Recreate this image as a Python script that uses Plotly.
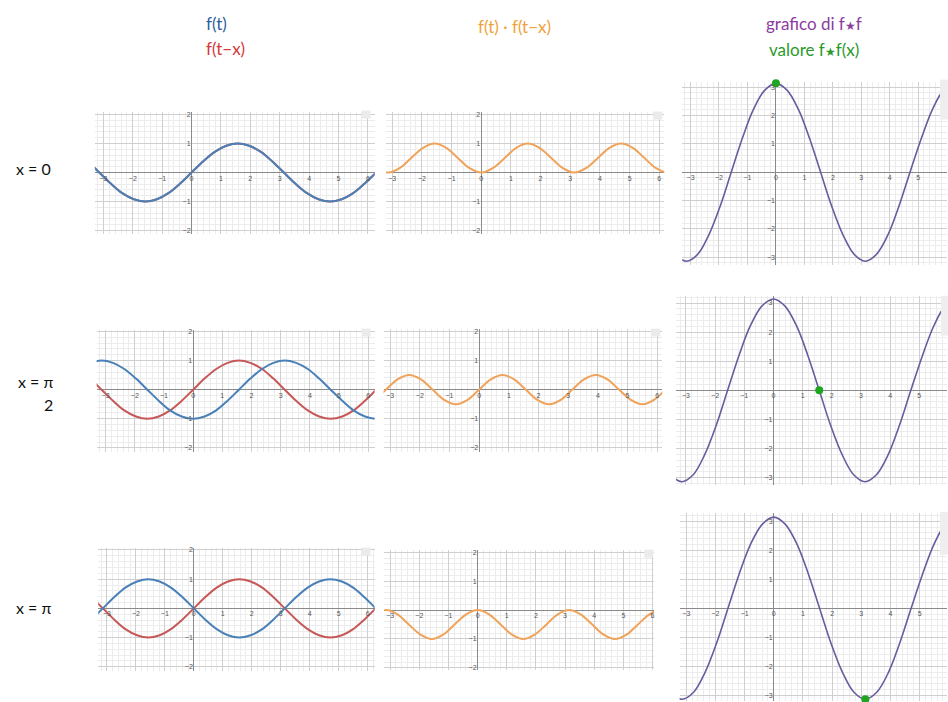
import plotly.graph_objects as go

# ---- data (samples every pi/8) ----
T = [-3.93, -3.53, -3.14, -2.75, -2.36, -1.96, -1.57, -1.18, -0.79, -0.39, 0, 0.39, 0.79, 1.18, 1.57,
     1.96, 2.36, 2.75, 3.14, 3.53, 3.93, 4.32, 4.71, 5.11, 5.50, 5.89, 6.28, 6.68, 7.07]

F_T = [0.71, 0.38, 0, -0.38, -0.71, -0.92, -1, -0.92, -0.71, -0.38, 0, 0.38, 0.71, 0.92, 1,
       0.92, 0.71, 0.38, 0, -0.38, -0.71, -0.92, -1, -0.92, -0.71, -0.38, 0, 0.38, 0.71]
F_SHIFT_HALFPI = [0.71, 0.92, 1, 0.92, 0.71, 0.38, 0, -0.38, -0.71, -0.92, -1, -0.92, -0.71, -0.38, 0,
                  0.38, 0.71, 0.92, 1, 0.92, 0.71, 0.38, 0, -0.38, -0.71, -0.92, -1, -0.92, -0.71]
F_SHIFT_PI = [-0.71, -0.38, 0, 0.38, 0.71, 0.92, 1, 0.92, 0.71, 0.38, 0, -0.38, -0.71, -0.92, -1,
              -0.92, -0.71, -0.38, 0, 0.38, 0.71, 0.92, 1, 0.92, 0.71, 0.38, 0, -0.38, -0.71]

PROD_0 = [0.5, 0.15, 0, 0.15, 0.5, 0.85, 1, 0.85, 0.5, 0.15, 0, 0.15, 0.5, 0.85, 1,
          0.85, 0.5, 0.15, 0, 0.15, 0.5, 0.85, 1, 0.85, 0.5, 0.15, 0, 0.15, 0.5]
PROD_HALFPI = [-0.5, -0.35, 0, 0.35, 0.5, 0.35, 0, -0.35, -0.5, -0.35, 0, 0.35, 0.5, 0.35, 0,
               -0.35, -0.5, -0.35, 0, 0.35, 0.5, 0.35, 0, -0.35, -0.5, -0.35, 0, 0.35, 0.5]
PROD_PI = [-0.5, -0.15, 0, -0.15, -0.5, -0.85, -1, -0.85, -0.5, -0.15, 0, -0.15, -0.5, -0.85, -1,
           -0.85, -0.5, -0.15, 0, -0.15, -0.5, -0.85, -1, -0.85, -0.5, -0.15, 0, -0.15, -0.5]

CONV = [-2.22, -2.9, -3.14, -2.9, -2.22, -1.2, 0, 1.2, 2.22, 2.9, 3.14, 2.9, 2.22, 1.2, 0,
        -1.2, -2.22, -2.9, -3.14, -2.9, -2.22, -1.2, 0, 1.2, 2.22, 2.9, 3.14, 2.9, 2.22]

X_VALUES = [0, 1.57, 3.14]
CONV_AT_X = [3.14, 0, -3.14]

X_TICKS = [-3, -2, -1, 0, 1, 2, 3, 4, 5, 6]
Y_TICKS_SMALL = [-2, -1, 1, 2]
Y_TICKS_BIG = [-3, -2, -1, 1, 2, 3]

ROW_LABELS = ["x = 0", "x = π", "x = π"]
STAR = "<span style='font-size:12px'>★</span>"
HEADERS = ["f(t)", "f(t−x)", "f(t) · f(t−x)", "grafico di f" + STAR + "f", "valore f" + STAR + "f(x)"]

# ---- layout (pixels) ----
W, H = 948, 702
BLUE, RED, ORANGE, PURPLE, GREEN = "#4a80b8", "#c65858", "#f0a35a", "#675c9e", "#1fa51f"

# left, right, top, bottom, xrange, yrange
PANELS = [
    (95, 375, 110, 232.5, [-3.29, 6.23], [-2.1, 2.1]),
    (386.7, 665, 110, 232.5, [-3.2, 6.17], [-2.1, 2.1]),
    (683, 948, 80, 264, [-3.29, 6.01], [-3.27, 3.2]),
    (96.7, 375, 329.3, 451.7, [-3.31, 6.22], [-2.13, 2.05]),
    (384, 663, 328.3, 451.7, [-3.22, 6.17], [-2.13, 2.08]),
    (676.7, 948, 295, 485, [-3.34, 5.95], [-3.25, 3.25]),
    (98.3, 375, 548.3, 671.7, [-3.3, 6.24], [-2.14, 2.07]),
    (384.7, 654.7, 550, 671, [-3.2, 6.05], [-2.08, 2.09]),
    (680.3, 948, 513.3, 702, [-3.23, 5.94], [-3.2, 3.28]),
]

fig = go.Figure()


def px_x(v):
    return v / W


def px_y(v):
    return 1 - v / H


tickfont = dict(family="Arial", size=7, color="#555555")

for i, (l, r, t, b, xr, yr) in enumerate(PANELS):
    n = i + 1
    sx = "" if n == 1 else str(n)
    dx = [px_x(l), px_x(r)]
    dy = [px_y(b), px_y(t)]
    ypos = dy[0] + (0 - yr[0]) / (yr[1] - yr[0]) * (dy[1] - dy[0])
    xpos = dx[0] + (0 - xr[0]) / (xr[1] - xr[0]) * (dx[1] - dx[0])
    big = (i % 3 == 2)
    fig.layout["xaxis" + sx] = dict(
        domain=dx, range=xr, anchor="free", position=ypos,
        tickmode="array", tickvals=X_TICKS, ticks="", showline=False,
        tickfont=tickfont, showgrid=True, gridcolor="#cfcfcf", gridwidth=1,
        zeroline=True, zerolinecolor="#8a8a8a", zerolinewidth=1.2,
        minor=dict(tickmode="linear", tick0=0, dtick=0.2, showgrid=True,
                   gridcolor="#ececec", gridwidth=1, ticks=""),
        fixedrange=True,
    )
    fig.layout["yaxis" + sx] = dict(
        domain=dy, range=yr, anchor="free", position=xpos,
        tickmode="array", tickvals=Y_TICKS_BIG if big else Y_TICKS_SMALL, ticks="",
        showline=False, tickfont=tickfont, showgrid=True, gridcolor="#cfcfcf",
        gridwidth=1, zeroline=True, zerolinecolor="#8a8a8a", zerolinewidth=1.2,
        minor=dict(tickmode="linear", tick0=0, dtick=0.2, showgrid=True,
                   gridcolor="#ececec", gridwidth=1, ticks=""),
        ticklabelstandoff=1, fixedrange=True,
    )


def line(x, y, n, color, width=2):
    sx = "" if n == 1 else str(n)
    fig.add_trace(go.Scatter(x=x, y=y, mode="lines", xaxis="x" + sx, yaxis="y" + sx,
                             line=dict(color=color, width=width, shape="spline"),
                             hoverinfo="skip", showlegend=False))


# row x = 0
line(T, F_T, 1, RED)
line(T, F_T, 1, BLUE)
line(T, PROD_0, 2, ORANGE)
line(T, CONV, 3, PURPLE, 1.6)
# row x = pi/2
line(T, F_T, 4, RED)
line(T, F_SHIFT_HALFPI, 4, BLUE)
line(T, PROD_HALFPI, 5, ORANGE)
line(T, CONV, 6, PURPLE, 1.6)
# row x = pi
line(T, F_T, 7, RED)
line(T, F_SHIFT_PI, 7, BLUE)
line(T, PROD_PI, 8, ORANGE)
line(T, CONV, 9, PURPLE, 1.6)

for k, n in enumerate([3, 6, 9]):
    sx = "" if n == 1 else str(n)
    fig.add_trace(go.Scatter(x=[X_VALUES[k]], y=[CONV_AT_X[k]], mode="markers",
                             xaxis="x" + sx, yaxis="y" + sx, cliponaxis=False,
                             marker=dict(color=GREEN, size=8), hoverinfo="skip",
                             showlegend=False))

# small toolbar buttons (decorative)
BUTTONS = [(362, 371, 109, 117), (654, 663, 110, 118), (362, 371, 328, 336),
           (652, 661, 328, 336), (362, 371, 548, 556), (645, 654, 550, 558)]
for (x0, x1, y0, y1) in BUTTONS:
    fig.add_shape(type="rect", xref="paper", yref="paper", x0=px_x(x0), x1=px_x(x1),
                  y0=px_y(y1), y1=px_y(y0), fillcolor="#ebebeb", line=dict(width=0))
TOOLBARS = [(941, 950, 78, 118), (942, 950, 295, 335), (941, 950, 512, 555)]
for (x0, x1, y0, y1) in TOOLBARS:
    fig.add_shape(type="rect", xref="paper", yref="paper", x0=px_x(x0), x1=px_x(x1),
                  y0=px_y(y1), y1=px_y(y0), fillcolor="#eeeeee", line=dict(width=0))

hand = "Lato"


def text(s, x, y, color, size=17, xanchor="center"):
    fig.add_annotation(text=s, x=px_x(x), y=px_y(y), xref="paper", yref="paper",
                       showarrow=False, xanchor=xanchor, yanchor="middle",
                       font=dict(family=hand, size=size, color=color))


text(HEADERS[0], 204, 22, "#2f5f9e", xanchor="left")
text(HEADERS[1], 204, 47, "#d23a3a", xanchor="left")
text(HEADERS[2], 515, 25, "#f0a23a")
text(HEADERS[3], 815, 22, "#8a3d9e")
text(HEADERS[4], 815, 48, "#2a9a2a")

text(ROW_LABELS[0], 14, 167, "#111111", 16, xanchor="left")
text(ROW_LABELS[1], 16, 381, "#111111", 16, xanchor="left")
text("2", 49, 404, "#111111", 16)
text(ROW_LABELS[2], 14, 608, "#111111", 16, xanchor="left")

fig.update_layout(width=W, height=H, margin=dict(l=0, r=0, t=0, b=0),
                  paper_bgcolor="white", plot_bgcolor="white")

fig.write_html("out.html", config={"displayModeBar": False},
               post_script="document.body.style.margin='0';document.body.style.padding='0';")
